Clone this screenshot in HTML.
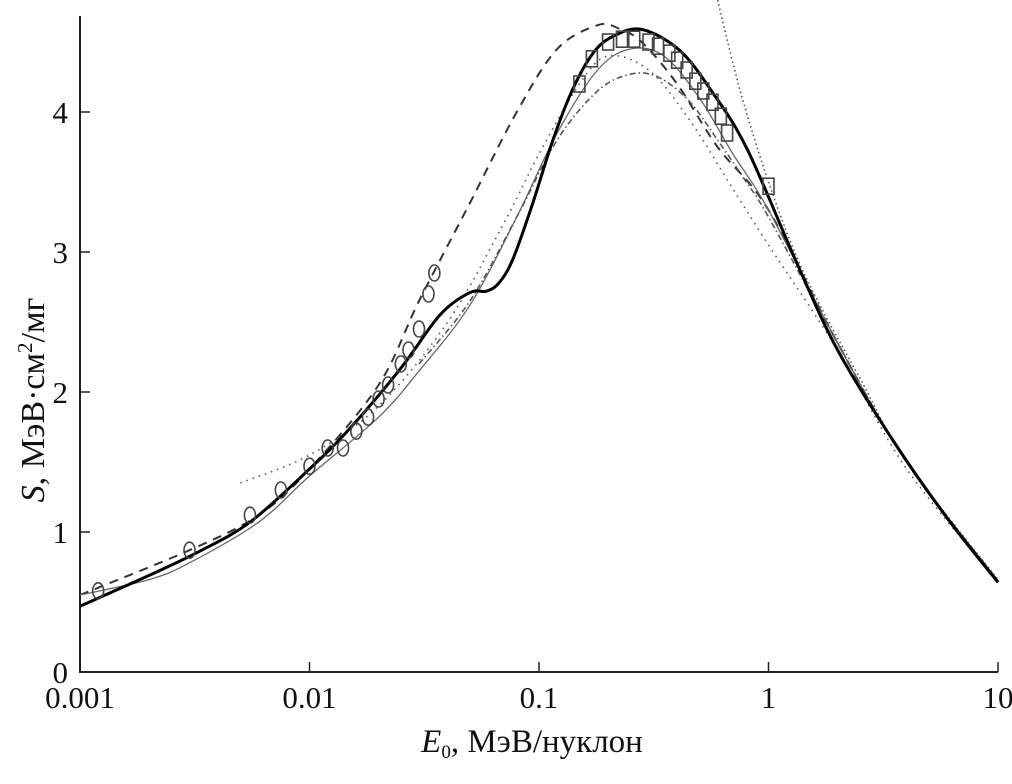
<!DOCTYPE html>
<html><head><meta charset="utf-8"><style>
body{margin:0;background:#fff}
svg text{font-family:"Liberation Serif",serif;fill:#111}
</style></head><body>
<svg id="chart" width="1012" height="779" viewBox="0 0 1012 779">
<g id="axes"></g>
<g id="series"></g>
<g id="markers"></g>
<text transform="translate(44,400) rotate(-90)" text-anchor="middle" font-size="34"><tspan font-style="italic">S</tspan>, МэВ·см<tspan font-size="21" dy="-12">2</tspan><tspan dy="12">/мг</tspan></text>
<text x="532" y="752" text-anchor="middle" font-size="33"><tspan font-style="italic">E</tspan><tspan font-size="19" dy="6">0</tspan><tspan dy="-6">, МэВ/нуклон</tspan></text>
</svg>
<script>
const xTicks=[0.001,0.01,0.1,1,10];
const xTickLabels=["0.001","0.01","0.1","1","10"];
const yTicks=[0,1,2,3,4];
const yTickLabels=["0","1","2","3","4"];
const mainE=[0.001,0.002,0.0033,0.0055,0.01,0.015,0.025,0.037,0.05,0.059,0.067,0.077,0.094,0.115,0.14,0.172,0.21,0.28,0.41,0.57,0.81,1.33,2,3.5,6,10];
const mainS=[0.47,0.69,0.86,1.07,1.45,1.74,2.17,2.55,2.71,2.72,2.78,2.95,3.35,3.8,4.16,4.42,4.54,4.59,4.44,4.14,3.73,2.92,2.3,1.65,1.1,0.64];
const dashE=[0.001,0.003,0.006,0.01,0.02,0.03,0.05,0.08,0.12,0.18,0.22,0.28,0.4,0.6,1,2,4,10];
const dashS=[0.55,0.87,1.12,1.45,2.05,2.65,3.35,4.0,4.45,4.62,4.6,4.5,4.2,3.75,3.3,2.35,1.5,0.65];
const thinE=[0.001,0.002,0.003,0.006,0.01,0.02,0.03,0.05,0.08,0.12,0.18,0.25,0.35,0.5,0.7,1,2,4,10];
const thinS=[0.55,0.66,0.78,1.07,1.4,1.82,2.15,2.62,3.25,3.85,4.3,4.45,4.4,4.1,3.7,3.3,2.35,1.5,0.65];
const dotE=[0.005,0.01,0.02,0.04,0.07,0.1,0.15,0.2,0.3,0.45,0.7,1,2,4,10];
const dotS=[1.35,1.55,1.9,2.5,3.2,3.7,4.2,4.4,4.3,3.95,3.45,3.05,2.3,1.45,0.65];
const dashDotE=[0.03,0.05,0.08,0.12,0.18,0.25,0.33,0.45,0.6,0.8,1,2,4,10];
const dashDotS=[2.2,2.65,3.25,3.8,4.15,4.27,4.25,4.08,3.8,3.5,3.25,2.35,1.5,0.65];
const steepE=[0.6,0.7,0.8,1,1.3,1.7,2.5,4,10];
const steepS=[4.8,4.35,4.0,3.5,3.0,2.6,2.1,1.5,0.66];
const circE=[0.0012,0.003,0.0055,0.0075,0.01,0.012,0.014,0.016,0.018,0.02,0.022,0.025,0.027,0.03,0.033,0.035];
const circS=[0.58,0.87,1.12,1.3,1.47,1.6,1.6,1.72,1.82,1.95,2.05,2.2,2.3,2.45,2.7,2.85];
const sqE=[0.15,0.17,0.2,0.23,0.26,0.3,0.33,0.37,0.4,0.44,0.48,0.52,0.57,0.62,0.66,1.0];
const sqS=[4.2,4.38,4.5,4.52,4.52,4.5,4.47,4.42,4.37,4.3,4.22,4.15,4.07,3.97,3.85,3.47];

const NS="http://www.w3.org/2000/svg";
const X0=80,X1=998,Y0=672,PPU=140;
function xs(e){return X0+(Math.log10(e)+3)/4*(X1-X0);}
function ys(s){return Y0-s*PPU;}
function mk(t,a,p){const el=document.createElementNS(NS,t);for(const k in a)el.setAttribute(k,a[k]);p.appendChild(el);return el;}
const axes=document.getElementById('axes');
let l=mk('path',{d:`M${X0},16V${Y0}H${X1}`,stroke:'#222','stroke-width':2,fill:'none'},axes);


xTicks.forEach((t,i)=>{
 const x=xs(t);
 const tk=mk('line',{x1:x,x2:x,y1:Y0,y2:Y0-10,stroke:'#222','stroke-width':1.5},axes);
 
 
 const tx=mk('text',{x:x,y:Y0+36,'text-anchor':'middle','font-size':31},axes);
 tx.textContent=xTickLabels[i];
 
 
});
yTicks.forEach((t,i)=>{
 const y=ys(t);
 const tk=mk('line',{x1:X0,x2:X0+10,y1:y,y2:y,stroke:'#222','stroke-width':1.5},axes);
 
 
 const tx=mk('text',{x:X0-12,y:y+11,'text-anchor':'end','font-size':31},axes);
 tx.textContent=yTickLabels[i];
 
 
});
function smooth(E,S){
 const p=E.map((e,i)=>[xs(e),ys(S[i])]);
 let d=`M${p[0][0]},${p[0][1]}`;
 for(let i=0;i<p.length-1;i++){
  const a=p[i-1]||p[i],b=p[i],c=p[i+1],n=p[i+2]||c;
  d+=`C${b[0]+(c[0]-a[0])/6},${b[1]+(c[1]-a[1])/6} ${c[0]-(n[0]-b[0])/6},${c[1]-(n[1]-b[1])/6} ${c[0]},${c[1]}`;
 }
 return d;
}
const ser=document.getElementById('series');
const defs=[[dashE,dashS,'#333',2,'9 7','dashed-curve'],[thinE,thinS,'#666',1.3,'none','thin-solid-curve'],[dotE,dotS,'#555',1.6,'1.5 5','dotted-curve'],[dashDotE,dashDotS,'#555',1.6,'6 3 1.5 3','dash-dot-curve'],[steepE,steepS,'#555',1.6,'1.5 3','steep-dotted-curve'],[mainE,mainS,'#000',3,'none','main-curve']];
defs.forEach(s=>{
 const p=mk('path',{d:smooth(s[0],s[1]),stroke:s[2],'stroke-width':s[3],'stroke-dasharray':s[4],fill:'none'},ser);
 
 
});
const mg=document.getElementById('markers');
circE.forEach((e,i)=>{
 const c=mk('ellipse',{cx:xs(e),cy:ys(circS[i]),rx:5.5,ry:8,fill:'none',stroke:'#444','stroke-width':1.6},mg);
 
 
});
sqE.forEach((e,i)=>{
 const r=mk('rect',{x:xs(e)-5.5,y:ys(sqS[i])-8,width:11,height:16,fill:'none',stroke:'#444','stroke-width':1.6},mg);
 
 
});
</script>
</body></html>
